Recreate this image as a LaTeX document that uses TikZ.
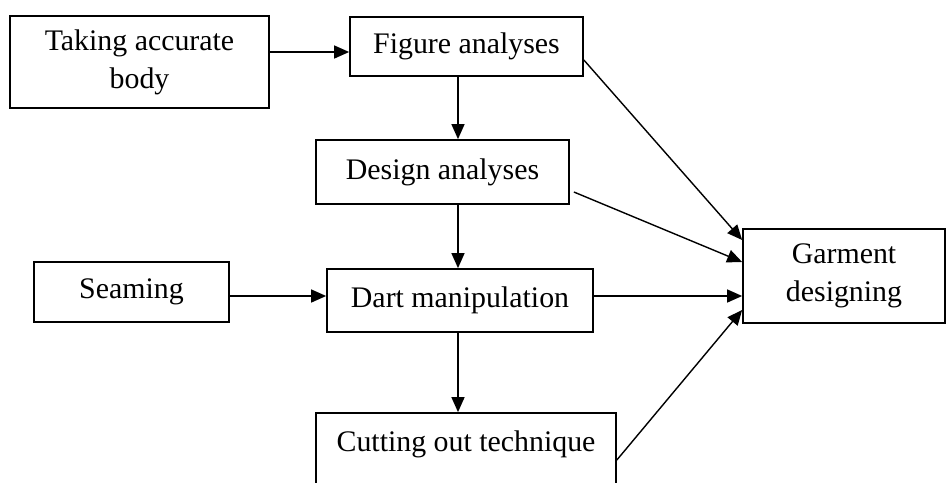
\documentclass[tikz,border=0pt]{standalone}
\usepackage{fontspec}
\setmainfont{Liberation Serif}
\usetikzlibrary{arrows.meta}
\begin{document}
\begin{tikzpicture}[x=0.02cm, y=-0.02cm, line width=1pt,
    box/.style={draw, rectangle, inner sep=0pt, align=center, font=\fontsize{17}{21.6}\selectfont},
    arr/.style={line width=0.8pt, -{Triangle[length=0.3cm,width=0.26cm]}}]
    \useasboundingbox (0,0) rectangle (946,483);
    % Boxes
    \node[box, minimum width=5.18cm, minimum height=1.84cm] (take) at (139.5,62) {Taking accurate\\body};
    \node[box, minimum width=4.66cm, minimum height=1.18cm] (figure) at (466.5,46.5) {Figure analyses};
    \node[box, minimum width=5.06cm, minimum height=1.28cm] (design) at (442.5,172) {Design analyses};
    \node[box, minimum width=3.9cm, minimum height=1.2cm] (seam) at (131.5,292) {Seaming};
    \node[box, minimum width=5.32cm, minimum height=1.26cm] (dart) at (460,300.5) {Dart manipulation};
    \node[box, minimum width=6cm, minimum height=1.88cm] (cut) at (466,460) {Cutting out technique\\ \mbox{}};
    \node[box, minimum width=4.04cm, minimum height=1.88cm] (garment) at (844,276) {Garment\\designing};
    
    % Helper points
    \coordinate (spine) at (458,0);
    \path ([yshift=0.2cm]take.east) coordinate (t1);
    \path ([yshift=-0.08cm]seam.east) coordinate (s1);
    \path ([yshift=0.09cm]dart.east) coordinate (d1);
    
    % Connections
    \draw[arr] (t1) -- (t1 -| figure.west);
    \draw[arr] (figure.south -| spine) -- (design.north -| spine);
    \draw[arr] (design.south -| spine) -- (dart.north -| spine);
    \draw[arr] (dart.south -| spine) -- (cut.north -| spine);
    \draw[arr] (s1) -- (s1 -| dart.west);
    \draw[arr] ([yshift=-0.27cm]figure.east) -- ([yshift=0.72cm]garment.west);
    \draw[arr] ([xshift=0.08cm,yshift=-0.4cm]design.east) -- ([yshift=0.28cm]garment.west);
    \draw[arr] (d1) -- (d1 -| garment.west);
    \draw[arr] (cut.east) -- ([yshift=-0.68cm]garment.west);
\end{tikzpicture}
\end{document}
